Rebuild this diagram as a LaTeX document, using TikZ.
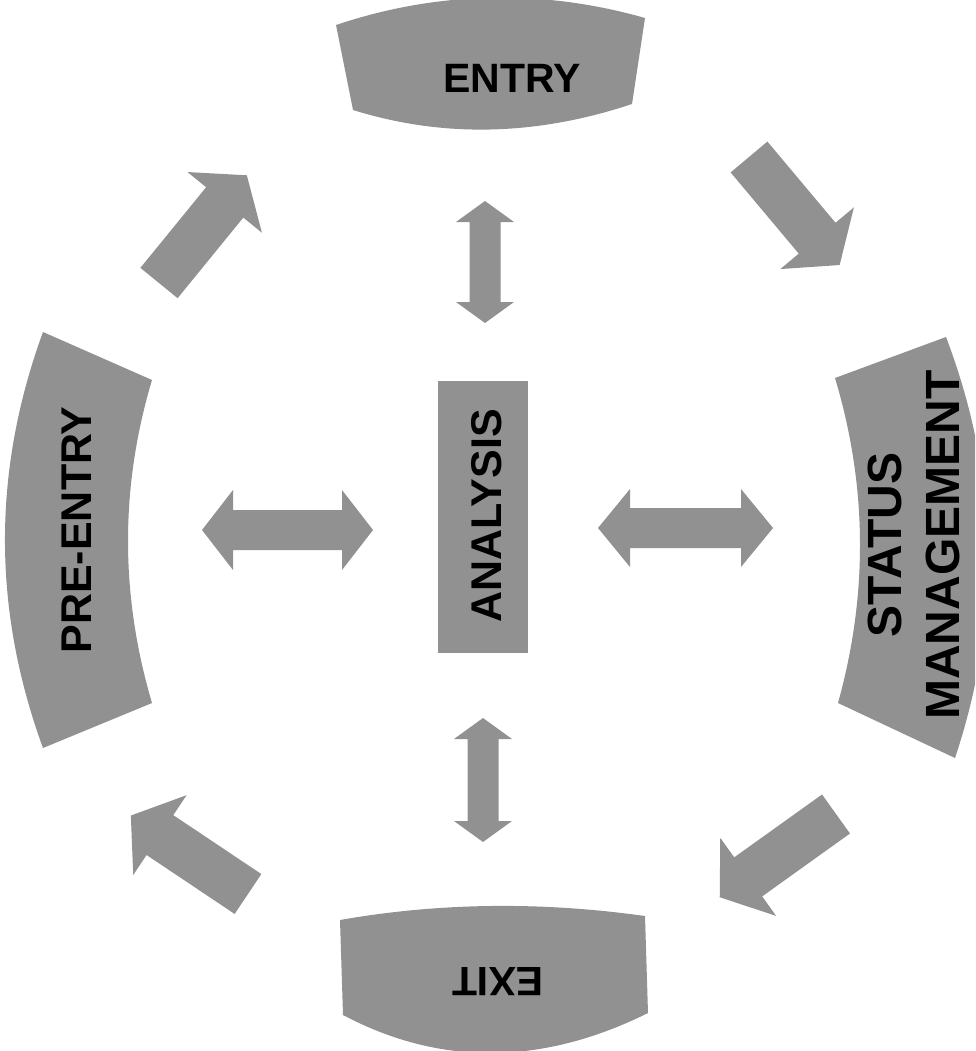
\documentclass[tikz,border=0pt]{standalone}
\usepackage{fontspec}
\setmainfont{Liberation Sans}
\definecolor{shapefill}{gray}{0.57}
\newcommand{\sarrow}[4]{% x y angle length
  \fill[shapefill, shift={(#1,#2)}, rotate=#3]
    (0,-24) -- ({#4-35},-24) -- ({#4-35},-48) -- (#4,0) -- ({#4-35},48) -- ({#4-35},24) -- (0,24) -- cycle;}
\newcommand{\darrow}[7]{% cx cy angle length shafthw headhw headlen
  \fill[shapefill, shift={(#1,#2)}, rotate=#3]
    ({-#4/2},0) -- ({-#4/2+#7},#6) -- ({-#4/2+#7},#5) -- ({#4/2-#7},#5) -- ({#4/2-#7},#6) -- ({#4/2},0)
    -- ({#4/2-#7},-#6) -- ({#4/2-#7},-#5) -- ({-#4/2+#7},-#5) -- ({-#4/2+#7},-#6) -- cycle;}
\begin{document}
\begin{tikzpicture}[x=1pt,y=-1pt,
  lbl/.style={font=\fontsize{41}{58}\selectfont\bfseries, inner sep=0pt, text=black, align=center},
  vlbl/.style={lbl, font=\fontsize{43}{58}\selectfont\bfseries},
  slbl/.style={lbl, font=\fontsize{48}{58}\selectfont\bfseries}]
\useasboundingbox (0,0) rectangle (975,1051);
\clip (0,0) rectangle (975,1051);
% ENTRY
\fill[shapefill] (336,25) .. controls (437.3,-9) and (542.3,-11.3) .. (645,18)
  -- (632,104) .. controls (536,136) and (442.7,138) .. (353,110) -- cycle;
\node[lbl] (entry) at (512,78) {ENTRY};
% EXIT
\fill[shapefill] (340,920) .. controls (438.3,902.7) and (540,901.3) .. (645,916)
  -- (648,1013) .. controls (541.7,1065.7) and (440,1066.3) .. (343,1015) -- cycle;
\node[lbl, rotate=180] (exit) at (498,982) {EXIT};
% PRE-ENTRY
\fill[shapefill] (43,332) .. controls (-7.7,470.7) and (-7.7,609.3) .. (43,748)
  -- (152,703) .. controls (120,594.7) and (120,487) .. (152,380) -- cycle;
\node[vlbl, rotate=90] (preentry) at (77,530) {PRE-ENTRY};
% STATUS MANAGEMENT
\fill[shapefill] (946,337) .. controls (999,476.7) and (1002,617) .. (955,758)
  -- (838,703) .. controls (868.3,594) and (867.3,485.7) .. (835,378) -- cycle;
\node[slbl, rotate=90] (status) at (914,545) {STATUS\\MANAGEMENT};
% ANALYSIS
\node[fill=shapefill, minimum width=90pt, minimum height=272pt, inner sep=0pt] (analysisbox) at (483,517) {};
\node[vlbl, rotate=90] (analysis) at (487,516) {ANALYSIS};
% single arrows
\sarrow{159}{283}{50.8}{139}
\sarrow{749}{157}{-50}{141}
\sarrow{836}{814}{215.6}{143}
\sarrow{248}{894}{146.2}{141}
% double arrows
\darrow{287.5}{530}{0}{171}{20}{40}{31}
\darrow{685.5}{528}{0}{175}{20}{39}{32}
\darrow{485}{262}{90}{122}{15.5}{29}{21}
\darrow{483}{780}{90}{124}{15.5}{29}{21}
\end{tikzpicture}
\end{document}
